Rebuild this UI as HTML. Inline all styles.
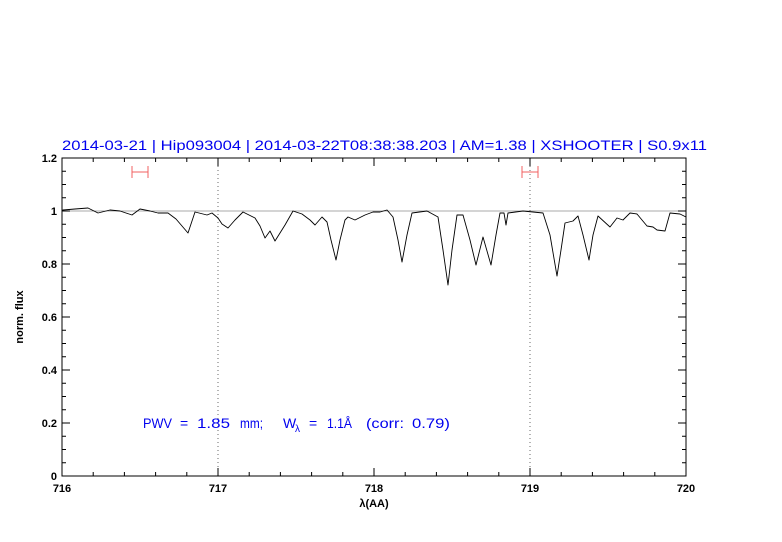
<!DOCTYPE html>
<html><head><meta charset="utf-8"><style>
html,body{margin:0;padding:0;background:#fff;}
svg{display:block;font-family:"Liberation Sans",sans-serif;}
</style></head><body>
<svg width="782" height="542" viewBox="0 0 782 542" xmlns="http://www.w3.org/2000/svg">
<rect width="782" height="542" fill="#fff"/>
<text x="62" y="150" font-size="14" fill="#0000ee" textLength="645" lengthAdjust="spacingAndGlyphs">2014-03-21 | Hip093004 | 2014-03-22T08:38:38.203 | AM=1.38 | XSHOOTER | S0.9x11</text>
<line x1="62" y1="211" x2="686" y2="211" stroke="#aaa" stroke-width="1"/>
<line x1="218" y1="158" x2="218" y2="476" stroke="#444" stroke-width="0.8" stroke-dasharray="1,3"/>
<line x1="530" y1="158" x2="530" y2="476" stroke="#444" stroke-width="0.8" stroke-dasharray="1,3"/>
<g stroke="#f06060" stroke-width="1" fill="none">
<path d="M132 172H148M132 166V178M148 166V178"/>
<path d="M522 172H538M522 166V178M538 166V178"/>
</g>
<polyline fill="none" stroke="#000" stroke-width="0.9" stroke-linejoin="round" points="62,211 63,210 75,209 88,208 98,213 110,210 120,211 132,215 140,209 150,211 158,213 168,213 176,219 182,226 188,233 195,212 207,215 212,213 218,218 222,224 228,228 235,220 243,212 255,218 260,226 265,238 270,231 275,241 285,225 293,211 302,214 310,220 315,225 322,217 327,222 331,240 336,260 340,240 345,220 348,217 355,220 365,215 373,212 380,212 387,210 393,217 398,240 402,262 407,235 412,213 427,211 438,217 443,250 448,285 452,250 457,215 463,215 470,240 476,265 483,237 491,265 496,235 500,213 504,213 506,225 508,213 523,211 543,213 550,235 557,276 561,250 565,223 573,221 578,216 583,235 589,260 593,235 598,216 610,227 617,218 623,220 630,213 637,214 647,226 653,227 657,230 665,231 670,213 680,214 686,217"/>
<rect x="62" y="158" width="624" height="318" fill="none" stroke="#000" stroke-width="1"/>
<g stroke="#000" stroke-width="1" fill="none">
<path d="M93.2 476v-4M124.4 476v-4M155.6 476v-4M186.8 476v-4M249.2 476v-4M280.4 476v-4M311.6 476v-4M342.8 476v-4M405.2 476v-4M436.4 476v-4M467.6 476v-4M498.8 476v-4M561.2 476v-4M592.4 476v-4M623.6 476v-4M654.8 476v-4M218 476v-8M374 476v-8M530 476v-8"/>
<path d="M93.2 158v4M124.4 158v4M155.6 158v4M186.8 158v4M249.2 158v4M280.4 158v4M311.6 158v4M342.8 158v4M405.2 158v4M436.4 158v4M467.6 158v4M498.8 158v4M561.2 158v4M592.4 158v4M623.6 158v4M654.8 158v4M218 158v8M374 158v8M530 158v8"/>
<path d="M62 462.75h4M62 449.5h4M62 436.25h4M62 409.75h4M62 396.5h4M62 383.25h4M62 356.75h4M62 343.5h4M62 330.25h4M62 303.75h4M62 290.5h4M62 277.25h4M62 250.75h4M62 237.5h4M62 224.25h4M62 197.75h4M62 184.5h4M62 171.25h4M62 423h8M62 370h8M62 317h8M62 264h8M62 211h8"/>
<path d="M686 462.75h-4M686 449.5h-4M686 436.25h-4M686 409.75h-4M686 396.5h-4M686 383.25h-4M686 356.75h-4M686 343.5h-4M686 330.25h-4M686 303.75h-4M686 290.5h-4M686 277.25h-4M686 250.75h-4M686 237.5h-4M686 224.25h-4M686 197.75h-4M686 184.5h-4M686 171.25h-4M686 423h-8M686 370h-8M686 317h-8M686 264h-8M686 211h-8"/>
</g>
<g font-size="11" fill="#000" text-anchor="end" font-weight="bold">
<text x="57" y="480">0</text>
<text x="57" y="427">0.2</text>
<text x="57" y="374">0.4</text>
<text x="57" y="321">0.6</text>
<text x="57" y="268">0.8</text>
<text x="57" y="215">1</text>
<text x="57" y="162">1.2</text>
</g>
<g font-size="11" fill="#000" text-anchor="middle" font-weight="bold">
<text x="62" y="492">716</text>
<text x="218" y="492">717</text>
<text x="374" y="492">718</text>
<text x="530" y="492">719</text>
<text x="686" y="492">720</text>
<text x="374" y="507">λ(AA)</text>
</g>
<text transform="translate(23,317) rotate(-90)" font-size="11" text-anchor="middle" fill="#000" font-weight="bold">norm. flux</text>
<g font-size="14" fill="#0000ee">
<text x="143" y="428" textLength="29" lengthAdjust="spacingAndGlyphs">PWV</text>
<text x="180" y="428">=</text>
<text x="197" y="428" textLength="33" lengthAdjust="spacingAndGlyphs">1.85</text>
<text x="240" y="428" textLength="23" lengthAdjust="spacingAndGlyphs">mm;</text>
<text x="283" y="428">W</text><text x="295" y="432" font-size="10">λ</text>
<text x="309" y="428">=</text>
<text x="327" y="428" textLength="25" lengthAdjust="spacingAndGlyphs">1.1Å</text>
<text x="366" y="428" textLength="38" lengthAdjust="spacingAndGlyphs">(corr:</text>
<text x="412" y="428" textLength="38" lengthAdjust="spacingAndGlyphs">0.79)</text>
</g>
</svg>
</body></html>
